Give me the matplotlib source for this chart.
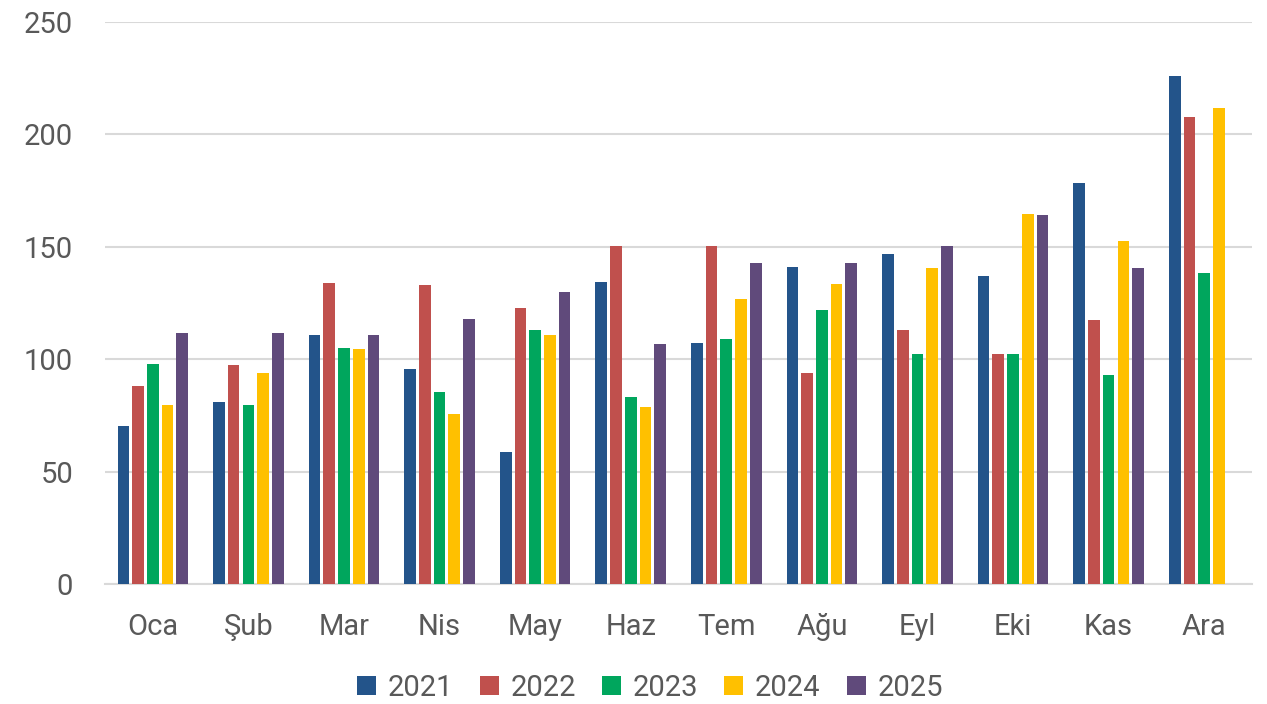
import numpy as np
import matplotlib.pyplot as plt

plt.rcParams["font.family"] = ["Roboto", "DejaVu Sans"]

months = ["Oca", "Şub", "Mar", "Nis", "May", "Haz", "Tem", "Ağu", "Eyl", "Eki", "Kas", "Ara"]
years = ["2021", "2022", "2023", "2024", "2025"]

v2021 = [70.3, 80.8, 110.9, 95.5, 58.7, 134.3, 107.2, 141.0, 146.6, 137.0, 178.4, 226.1]
v2022 = [88.1, 97.3, 133.9, 132.9, 122.6, 150.2, 150.2, 93.7, 113.1, 102.3, 117.3, 207.6]
v2023 = [97.7, 79.6, 105.1, 85.3, 113.0, 83.2, 109.1, 121.7, 102.3, 102.3, 93.1, 138.2]
v2024 = [79.6, 93.7, 104.7, 75.6, 110.8, 78.7, 126.6, 133.6, 140.6, 164.6, 152.6, 211.6]
v2025 = [111.6, 111.6, 110.8, 117.7, 129.7, 106.8, 142.6, 142.9, 150.4, 164.0, 140.7, np.nan]

series = [v2021, v2022, v2023, v2024, v2025]
colors = ["#23548A", "#C0504D", "#00A65D", "#FFC000", "#604A7B"]

fig = plt.figure(figsize=(12.67, 7.04), dpi=100)
ax = fig.add_axes([105 / 1267, 120 / 704, 1147 / 1267, 562 / 704])

x = np.arange(len(months))
step = 0.154
width = 0.122
for i, (vals, col, yr) in enumerate(zip(series, colors, years)):
    ax.bar(x + (i - 2) * step, vals, width, color=col, label=yr, zorder=3)

ax.set_xlim(-0.5, len(months) - 0.5)
ax.set_ylim(0, 250)
ax.set_yticks([0, 50, 100, 150, 200, 250])
ax.set_xticks(x)
ax.set_xticklabels(months)
ax.tick_params(axis="both", length=0, labelsize=21, colors="#595959")
ax.tick_params(axis="x", pad=21)
ax.tick_params(axis="y", pad=23)
ax.grid(axis="y", color="#D9D9D9", linewidth=1.5, zorder=0)
for s in ["top", "right", "left"]:
    ax.spines[s].set_visible(False)
ax.spines["bottom"].set_color("#D9D9D9")
ax.spines["bottom"].set_linewidth(1.5)

leg = fig.legend(loc="center", bbox_to_anchor=(650 / 1267, 1 - 688 / 704), ncol=5,
                 frameon=False, fontsize=21, handlelength=0.65, handleheight=0.65,
                 handletextpad=0.4, columnspacing=0.9, labelcolor="#595959")

fig.savefig("out.png", dpi=100)
